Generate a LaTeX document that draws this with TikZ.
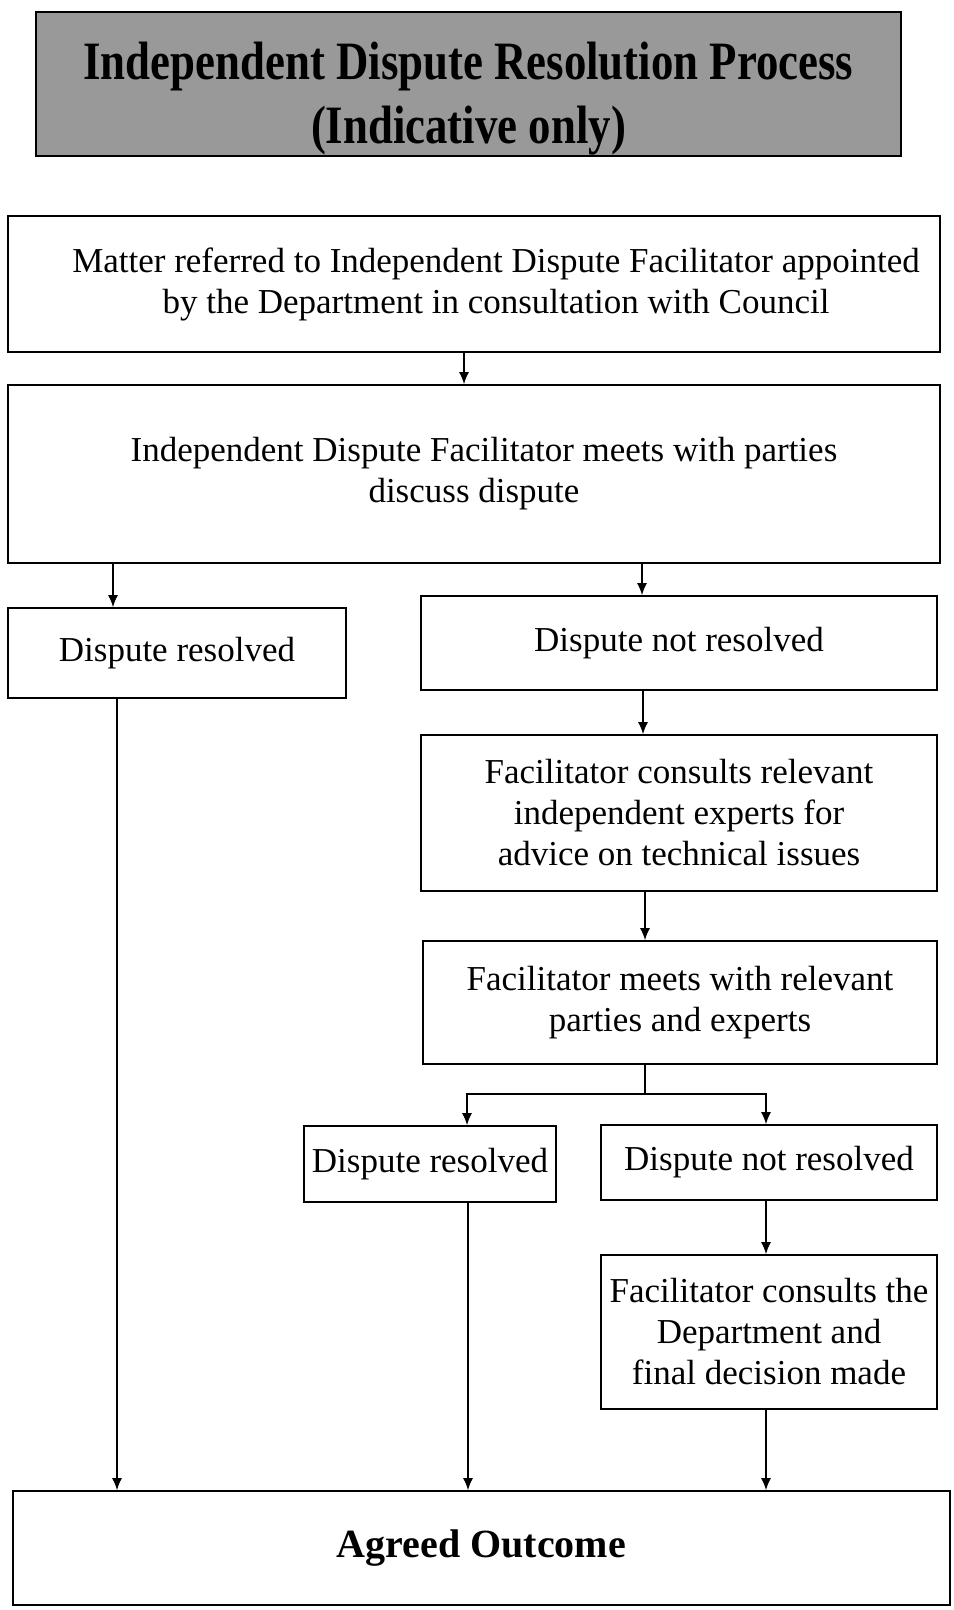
\documentclass[tikz,border=0pt]{standalone}
\usepackage{fontspec}
\setmainfont{Liberation Serif}
\newfontfamily\titlefont[FakeStretch=0.83]{Liberation Serif}
\usetikzlibrary{positioning,arrows.meta}

\begin{document}
\begin{tikzpicture}[
  x=0.5pt, y=-0.5pt,
  stepbox/.style={draw, line width=0.8pt, align=center, inner sep=2pt, font=\fontsize{17.5}{20.5}\selectfont},
  flow/.style={-{Latex[length=6pt,width=5pt]}, line width=0.8pt}
]
  \useasboundingbox (0,0) rectangle (953,1610);

  \node[stepbox, fill=black!40, line width=1.4pt, inner ysep=0pt, minimum width=432.5pt, minimum height=72pt,
        font=\titlefont\bfseries\fontsize{27}{32}\selectfont] (T) at (468.5,84)
        {\rule{0pt}{33pt}Independent Dispute Resolution Process\\(Indicative only)};

  \node[stepbox, minimum width=466pt, minimum height=68pt] (M) at (474,284)
        {\hspace*{22pt}Matter referred to Independent Dispute Facilitator appointed\\\hspace*{22pt}by the Department in consultation with Council};
  \node[stepbox, minimum width=466pt, minimum height=89pt] (D) at (474,474)
        {\hspace*{10pt}Independent Dispute Facilitator meets with parties\\discuss dispute};
  \node[stepbox, minimum width=169pt, minimum height=45pt] (R1) at (177,653) {Dispute resolved};
  \node[stepbox, minimum width=258pt, minimum height=47pt] (N1) at (679,643) {Dispute not resolved};
  \node[stepbox, minimum width=258pt, minimum height=78pt] (C1) at (679,813)
        {Facilitator consults relevant\\independent experts for\\advice on technical issues};
  \node[stepbox, minimum width=257pt, minimum height=61.5pt] (F) at (680,1002.5)
        {Facilitator meets with relevant\\parties and experts};
  \node[stepbox, minimum width=126pt, minimum height=38pt] (R2) at (430,1164) {Dispute resolved};
  \node[stepbox, minimum width=168pt, minimum height=37.5pt] (N2) at (769,1162.5) {Dispute not resolved};
  \node[stepbox, minimum width=168pt, minimum height=77pt] (C2) at (769,1332)
        {Facilitator consults the\\Department and\\final decision made};
  \node[stepbox, minimum width=468.5pt, minimum height=57pt,
        font=\bfseries\fontsize{20}{24}\selectfont] (A) at (481.5,1548) {Agreed Outcome};

  \coordinate (split) at (645,1094);

  \draw[flow] (M.south -| 464,0) -- (D.north -| 464,0);
  \draw[flow] (D.south -| 113,0) -- (R1.north -| 113,0);
  \draw[flow] (D.south -| 642,0) -- (N1.north -| 642,0);
  \draw[flow] (N1.south -| 643,0) -- (C1.north -| 643,0);
  \draw[flow] (C1.south -| 645,0) -- (F.north -| 645,0);
  \draw[line width=0.8pt] (F.south -| split) -- (split);
  \draw[flow] (split) -| (R2.north -| 467,0);
  \draw[flow] (split) -| (N2.north -| 766,0);
  \draw[flow] (N2.south -| 766,0) -- (C2.north -| 766,0);

  \draw[flow] (R1.south -| 117,0) -- (A.north -| 117,0);
  \draw[flow] (R2.south -| 468,0) -- (A.north -| 468,0);
  \draw[flow] (C2.south -| 766,0) -- (A.north -| 766,0);
\end{tikzpicture}
\end{document}
